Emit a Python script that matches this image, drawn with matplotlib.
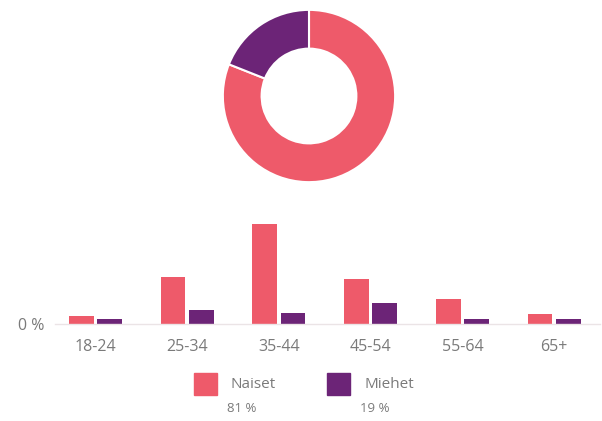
import matplotlib
matplotlib.use("Agg")
import matplotlib.pyplot as plt
import numpy as np

plt.rcParams['font.family'] = ['Open Sans', 'DejaVu Sans']

categories = ["18-24", "25-34", "35-44", "45-54", "55-64", "65+"]
naiset = [8, 47, 100, 45, 25, 10]
miehet = [5.5, 14, 11, 21, 5.5, 5.5]
series_names = ["Naiset", "Miehet"]
shares = [81, 19]
share_labels = ["81 %", "19 %"]

pink = "#EE5A6A"
purple = "#6C2477"
text_col = "#7a7a7a"

W, H = 602, 421
fig = plt.figure(figsize=(W / 100, H / 100), dpi=100)

# Donut
cx, cy, r = 309, 96, 87
axd = fig.add_axes([(cx - r) / W, (H - cy - r) / H, 2 * r / W, 2 * r / H])
axd.pie(shares, colors=[pink, purple], startangle=90, counterclock=False,
        radius=1, wedgeprops=dict(width=0.45, edgecolor="white", linewidth=1.5))
axd.set_xlim(-1.01, 1.01)
axd.set_ylim(-1.01, 1.01)
axd.set_aspect("equal")
axd.axis("off")

# Bars
base_y, top_y = 324, 214
left_px, right_px = 55, 600
axb = fig.add_axes([left_px / W, (H - base_y) / H, (right_px - left_px) / W, (base_y - top_y) / H])
x = np.arange(len(categories))
bw = 0.27
axb.bar(x - bw / 2 - 0.02, naiset, width=bw, color=pink)
axb.bar(x + bw / 2 + 0.02, miehet, width=bw, color=purple)
axb.set_xlim(-0.44, 5.5)
axb.set_ylim(0, base_y - top_y)
for s in ["top", "right", "left"]:
    axb.spines[s].set_visible(False)
axb.spines["bottom"].set_color("#ebe4e6")
axb.spines["bottom"].set_linewidth(1)
axb.set_xticks(x)
axb.set_xticklabels(categories, fontsize=11.5, color=text_col)
axb.set_yticks([0])
axb.set_yticklabels(["0 %"], fontsize=11.5, color=text_col)
axb.tick_params(axis="both", length=0)
axb.tick_params(axis="x", pad=11)
axb.tick_params(axis="y", pad=8)

# Legend
leg_items = [(194, pink), (327, purple)]
for i, (lx, col) in enumerate(leg_items):
    fig.patches.append(plt.Rectangle((lx / W, (H - 395) / H), 23 / W, 22 / H,
                                     transform=fig.transFigure, color=col))
    fig.text((lx + 37) / W, (H - 385) / H, series_names[i], fontsize=11,
             color=text_col, va="center", ha="left")
    fig.text((lx + 33) / W, (H - 409) / H, share_labels[i], fontsize=9.5,
             color=text_col, va="center", ha="left")

fig.savefig("out.png", dpi=100, facecolor="white")
